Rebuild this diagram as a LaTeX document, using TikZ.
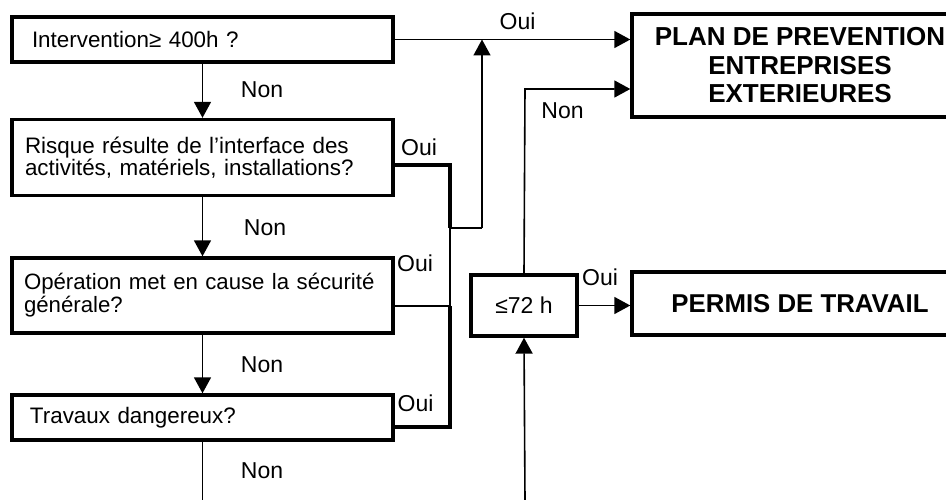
\documentclass[tikz,border=0pt]{standalone}
\usepackage{fontspec}
\setmainfont{Liberation Sans}
\usetikzlibrary{arrows.meta}
\tikzset{
  qbox/.style={draw, line width=3.4pt, minimum width=381pt, text width=370pt,
    inner xsep=5.5pt, inner ysep=2pt, align=left},
  rbox/.style={draw, line width=3.4pt, align=center, inner sep=2pt},
  thin/.style={line width=1.6pt},
  thick/.style={line width=3.4pt},
  arr/.style={thin, -{Triangle[length=16pt,width=17pt]}},
  lbl/.style={inner sep=0pt, font=\fontsize{23}{24}\selectfont},
}
\begin{document}
\begin{tikzpicture}[x=1pt, y=-1pt]
\useasboundingbox (0,0) rectangle (946,500);
\clip (0,0) rectangle (946,500);

% question boxes
\node[qbox, minimum height=45pt, font=\fontsize{22.4}{21}\selectfont] (b1) at (202.5,39.5)
  {\hspace*{14.5pt}\mbox{Intervention≥ 400h ?}};
\node[qbox, minimum height=76pt, font=\fontsize{22.4}{21}\selectfont] (b2) at (202.5,157.5)
  {\hspace*{7.5pt}\mbox{Risque résulte de l’interface des}\\\hspace*{7.5pt}\mbox{activités, matériels, installations?}};
\node[qbox, minimum height=75pt, font=\fontsize{22.2}{23}\selectfont] (b3) at (202.5,295.5)
  {\hspace*{6.5pt}\mbox{Opération met en cause la sécurité}\\\hspace*{6.5pt}\mbox{générale?}};
\node[qbox, minimum height=45pt, font=\fontsize{22.4}{21}\selectfont] (b4) at (202.5,417.5)
  {\hspace*{12.5pt}\mbox{Travaux dangereux?}};

% result boxes
\node[rbox, minimum width=336pt, minimum height=103pt, font=\fontsize{26}{28.5}\selectfont\bfseries] (plan) at (800,65.5)
  {PLAN DE PREVENTION\\ENTREPRISES\\EXTERIEURES};
\node[rbox, minimum width=336pt, minimum height=63pt, font=\fontsize{25.8}{28}\selectfont\bfseries] (permis) at (800,303.5)
  {PERMIS DE TRAVAIL};
\node[rbox, minimum width=106pt, minimum height=61pt, font=\fontsize{23}{24}\selectfont] (t72) at (524,305.5)
  {≤72 h};

% helper coordinates
\coordinate (k1) at (450,165);
\coordinate (k2) at (450,228);
\coordinate (k3) at (450,306);
\coordinate (k4) at (450,427);
\coordinate (up) at (482,228);
\coordinate (nn) at (525,89);
\coordinate (bl) at (206,500);
\coordinate (br) at (525,500);

% vertical Non flow
\draw[arr] (b1.south) -- (b2.north);
\draw[arr] (b2.south) -- (b3.north);
\draw[arr] (b3.south) -- (b4.north);
\draw[thin] (b4.south) -- (b4.south |- bl);

% Oui bus
\draw[thick] (b2.east |- k1) -- (k1) -- (k2);
\draw[thick] (b4.east |- k4) -- (k4) -- (k3);
\draw[thin] (b3.east |- k3) -- (k3) -- (k2) -- (up);
\draw[arr] (up) -- (up |- b1.east);
\draw[arr] (b1.east) -- (b1.east -| plan.west);

% 72 h branch
\draw[arr] (br) -- (t72.south);
\draw[arr] (t72.north) -- (nn) -- (nn -| plan.west);
\draw[arr] (t72.east) -- (t72.east -| permis.west);

% labels
\node[lbl] (n1) at (262,89.5) {Non};
\node[lbl] (n2) at (265,228) {Non};
\node[lbl] (n3) at (262,364.5) {Non};
\node[lbl] (n4) at (262,470.5) {Non};
\node[lbl] (n5) at (562.5,111) {Non};
\node[lbl] (o1) at (517.5,21) {Oui};
\node[lbl] (o2) at (419,147) {Oui};
\node[lbl] (o3) at (415,263.5) {Oui};
\node[lbl] (o4) at (415.5,403.5) {Oui};
\node[lbl] (o5) at (600,277) {Oui};
\end{tikzpicture}
\end{document}
